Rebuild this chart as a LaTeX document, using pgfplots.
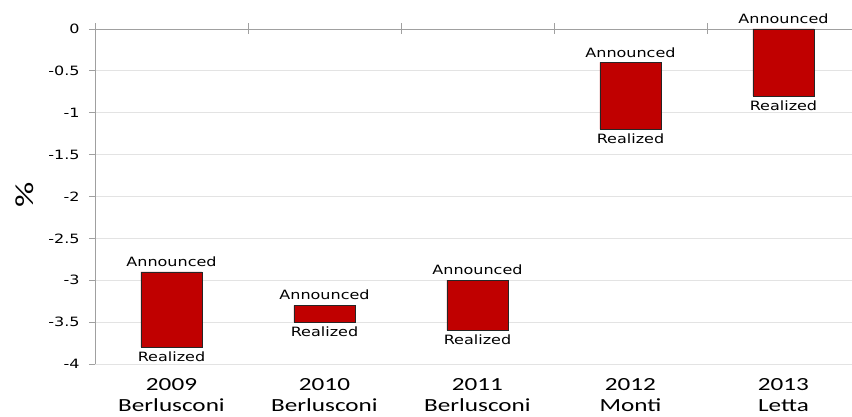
\documentclass[border=0pt]{standalone}
\usepackage{pgfplots}
\pgfplotsset{compat=1.18}
\usepackage{pgfplotstable}
\usepackage{fontspec}
\setmainfont{DejaVu Sans}[FakeStretch=1.25]
\newfontfamily\labfont{Carlito}[FakeStretch=1.36]
\definecolor{barred}{HTML}{C00000}
\definecolor{gridgray}{HTML}{E3E3E3}
\definecolor{axgray}{HTML}{A0A0A0}
\newcommand\smallf{\fontsize{12.8}{15}\selectfont}
\newcommand\bigf{\labfont\fontsize{18.5}{21}\selectfont}

\pgfplotstableread{
x announced realized
0 -2.9 -3.8
1 -3.3 -3.5
2 -3.0 -3.6
3 -0.4 -1.2
4 0.0 -0.8
}\datatable

\begin{document}
\begin{tikzpicture}
\begin{axis}[
  scale only axis, width=757pt, height=335pt,
  xmin=-0.5, xmax=4.448, ymin=-4, ymax=0,
  clip=false,
  axis x line*=top, axis y line*=left,
  axis line style={axgray, line width=0.8pt, -},
  xtick={-0.5,0.5,1.5,2.5,3.5}, xticklabels={},
  ytick={-4,-3.5,-3,-2.5,-2,-1.5,-1,-0.5,0},
  yticklabels={-4,-3.5,-3,-2.5,-2,-1.5,-1,-0.5,0},
  tick align=center,
  xtick style={axgray, line width=0.8pt, /pgfplots/major tick length=11pt},
  ytick style={axgray, line width=0.8pt, /pgfplots/major tick length=6pt, xshift=-3pt},
  ymajorgrids, grid style={gridgray, line width=0.8pt},
  yticklabel style={font=\smallf, anchor=east, inner sep=0pt, xshift=-13pt},
  ylabel={\%},
  ylabel style={font=\labfont\fontsize{26}{28}\selectfont, at={(axis description cs:-0.0925,0.504)}, anchor=center},
  ybar stacked, bar width=61pt,
]
\addplot[draw=none, fill=none] table[x=x, y=announced] {\datatable};
\addplot[fill=barred, draw=black!85, line width=0.6pt] table[x=x, y expr=\thisrow{realized}-\thisrow{announced}] {\datatable};

\node[anchor=south, inner sep=0pt, yshift=5pt, font=\smallf] at (axis cs:0,-2.9) {Announced};
\node[anchor=south, inner sep=0pt, yshift=5pt, font=\smallf] at (axis cs:1,-3.3) {Announced};
\node[anchor=south, inner sep=0pt, yshift=5pt, font=\smallf] at (axis cs:2,-3.0) {Announced};
\node[anchor=south, inner sep=0pt, yshift=5pt, font=\smallf] at (axis cs:3,-0.4) {Announced};
\node[anchor=south, inner sep=0pt, yshift=5pt, font=\smallf] at (axis cs:4,0) {Announced};

\node[anchor=north, inner sep=0pt, yshift=-4.5pt, font=\smallf] at (axis cs:0,-3.8) {Realized};
\node[anchor=north, inner sep=0pt, yshift=-4.5pt, font=\smallf] at (axis cs:1,-3.5) {Realized};
\node[anchor=north, inner sep=0pt, yshift=-4.5pt, font=\smallf] at (axis cs:2,-3.6) {Realized};
\node[anchor=north, inner sep=0pt, yshift=-4.5pt, font=\smallf] at (axis cs:3,-1.2) {Realized};
\node[anchor=north, inner sep=0pt, yshift=-4.5pt, font=\smallf] at (axis cs:4,-0.8) {Realized};

\node[anchor=north, align=center, inner sep=0pt, yshift=-14pt, font=\bigf] at (axis cs:0,-4) {2009\\Berlusconi};
\node[anchor=north, align=center, inner sep=0pt, yshift=-14pt, font=\bigf] at (axis cs:1,-4) {2010\\Berlusconi};
\node[anchor=north, align=center, inner sep=0pt, yshift=-14pt, font=\bigf] at (axis cs:2,-4) {2011\\Berlusconi};
\node[anchor=north, align=center, inner sep=0pt, yshift=-14pt, font=\bigf] at (axis cs:3,-4) {2012\\Monti};
\node[anchor=north, align=center, inner sep=0pt, yshift=-14pt, font=\bigf] at (axis cs:4,-4) {2013\\Letta};
\end{axis}
\pgfresetboundingbox
\useasboundingbox (-95pt,-53pt) rectangle (757pt,364pt);
\end{tikzpicture}
\end{document}
